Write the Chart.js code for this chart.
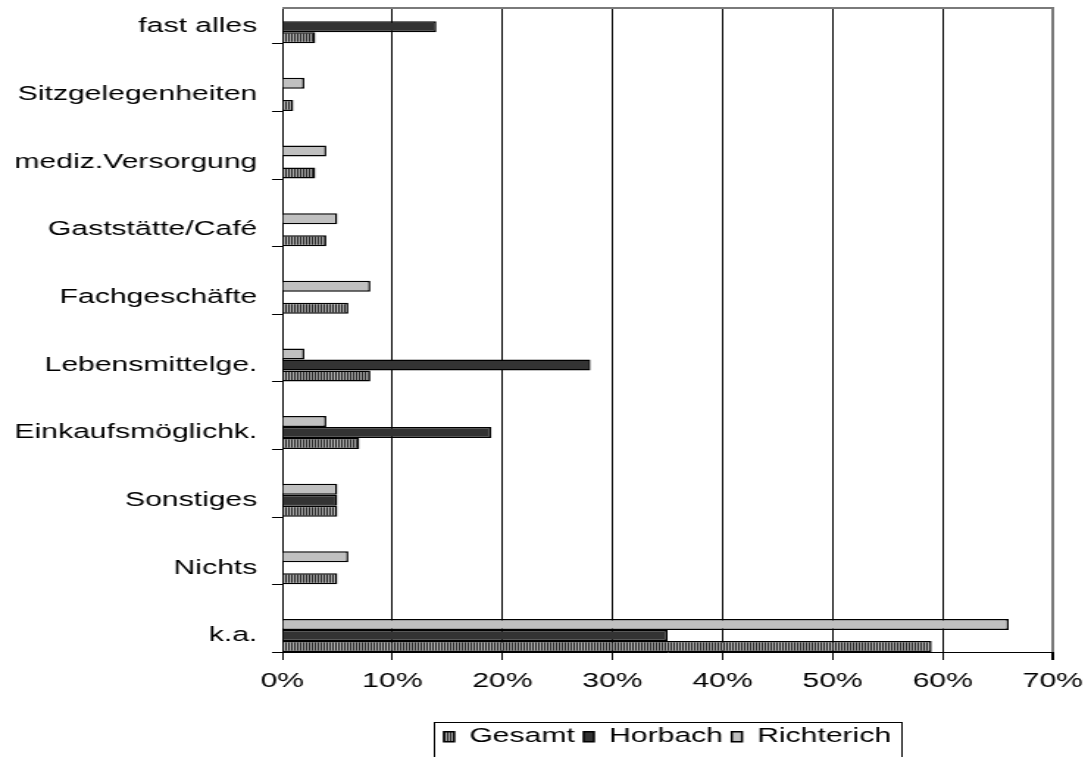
<!DOCTYPE html>
<html>
<head>
<meta charset="utf-8">
<script src="https://cdn.jsdelivr.net/npm/chart.js@4"></script>
<style>
  html, body { margin: 0; padding: 0; background: #fff; overflow: hidden; }
  #chart { display: block; }
</style>
</head>
<body>
<!-- the original picture is stretched sideways, so the canvas is too -->
<canvas id="chart" width="740" height="757" style="width:1088px;height:757px"></canvas>
<script>
// =========================
// DATA (percent)
// =========================
const categories = ['fast alles', 'Sitzgelegenheiten', 'mediz.Versorgung', 'Gaststätte/Café', 'Fachgeschäfte',
  'Lebensmittelge.', 'Einkaufsmöglichk.', 'Sonstiges', 'Nichts', 'k.a.'];
const gesamt     = [3, 1, 3, 4, 6, 8, 7, 5, 5, 59];
const horbach    = [14, 0, 0, 0, 0, 28, 19, 5, 0, 35];
const richterich = [0, 2, 4, 5, 8, 2, 4, 5, 6, 66];
const xTicks = [0, 10, 20, 30, 40, 50, 60, 70];

// share of a category row taken by its three bars
const groupShare = 0.488;

const font = { family: "'Liberation Sans', Arial, sans-serif", size: 20.5 };
Chart.defaults.color = '#000';

const ctx = document.getElementById('chart').getContext('2d');

// vertical stripe fill for "Gesamt"
function stripes() {
  const c = document.createElement('canvas');
  c.width = 2; c.height = 1;
  const g = c.getContext('2d');
  g.fillStyle = '#a8a8a8'; g.fillRect(0, 0, 2, 1);
  g.fillStyle = '#2a2a2a'; g.fillRect(0, 0, 1, 1);
  return ctx.createPattern(c, 'repeat');
}

const points = arr => arr.map((v, i) => ({ x: v, y: i }));

// top frame line, category tick marks, legend box
const frame = {
  id: 'frame',
  afterDraw(chart) {
    const { ctx, chartArea: a, scales: { y } } = chart;
    ctx.save();
    ctx.strokeStyle = '#7a7a7a';
    ctx.lineWidth = 2;
    ctx.beginPath(); ctx.moveTo(a.left, a.top); ctx.lineTo(a.right + 1, a.top); ctx.stroke();

    ctx.strokeStyle = '#000';
    ctx.lineWidth = 1;
    categories.forEach((c, i) => {
      const py = Math.round(y.getPixelForValue(i + groupShare / 2)) + 0.5;
      ctx.beginPath(); ctx.moveTo(a.left - 7, py); ctx.lineTo(a.left, py); ctx.stroke();
    });

    const boxes = chart.legend.legendHitBoxes;
    if (boxes.length) {
      const l = Math.min(...boxes.map(b => b.left)) - 7;
      const r = Math.max(...boxes.map(b => b.left + b.width)) + 7;
      const t = boxes[0].top - 5;
      const b = Math.min(chart.height - 1, boxes[0].top + boxes[0].height + 9);
      ctx.strokeStyle = '#000';
      ctx.strokeRect(Math.round(l) + 0.5, Math.round(t) + 0.5, Math.round(r - l), Math.round(b - t));
    }
    ctx.restore();
  }
};

new Chart(ctx, {
  type: 'bar',
  data: {
    datasets: [
      { label: 'Richterich', data: points(richterich), backgroundColor: '#c0c0c0' },
      { label: 'Horbach', data: points(horbach), backgroundColor: '#333333' },
      { label: 'Gesamt', data: points(gesamt), backgroundColor: stripes() }
    ]
  },
  options: {
    indexAxis: 'y',
    responsive: false,
    animation: false,
    devicePixelRatio: 1,
    layout: { padding: { top: 8, right: 24, left: 0, bottom: 0 } },
    datasets: {
      bar: { borderColor: '#000', borderWidth: 1.5, categoryPercentage: groupShare, barPercentage: 1 }
    },
    scales: {
      x: {
        type: 'linear',
        bounds: 'data',
        min: 0,
        max: 70,
        afterBuildTicks: s => { s.ticks = xTicks.map(v => ({ value: v })); },
        afterFit: s => { s.height = 68.5; s.paddingLeft = 0; s.paddingRight = 0; },
        grid: {
          color: c => (c.tick && c.tick.value === 70 ? '#7a7a7a' : '#000'),
          lineWidth: c => (c.tick && c.tick.value === 70 ? 2 : 1),
          drawTicks: true,
          tickLength: 8,
          tickColor: '#000'
        },
        border: { color: '#000', width: 1 },
        ticks: { callback: v => v + '%', font: font, color: '#000', padding: 9, maxRotation: 0 }
      },
      y: {
        type: 'linear',
        bounds: 'data',
        offset: false,
        reverse: true,
        min: -0.277,
        max: 9 + groupShare / 2,
        afterBuildTicks: s => { s.ticks = categories.map((c, i) => ({ value: i })); },
        afterFit: s => { s.width = 192; s.paddingTop = 0; s.paddingBottom = 0; },
        grid: { display: false, offset: false, drawTicks: true, tickLength: 7 },
        border: { color: '#000', width: 1 },
        ticks: { callback: v => categories[v], font: font, color: '#000', padding: 10, autoSkip: false }
      }
    },
    plugins: {
      legend: {
        position: 'bottom',
        fullSize: false,
        reverse: true,
        labels: { boxWidth: 7, boxHeight: 10, padding: 6, font: font, color: '#000' }
      },
      tooltip: { enabled: false }
    }
  },
  plugins: [frame]
});
</script>
</body>
</html>
